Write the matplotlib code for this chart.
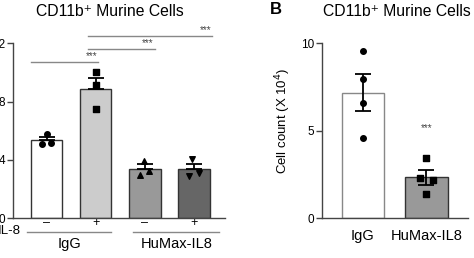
import matplotlib.pyplot as plt
import numpy as np

# panel A data
a_groups = ["IgG", "HuMax-IL8"]
a_il8 = ["\u2013", "+", "\u2013", "+"]
a_points = [
    [5.8, 5.1, 5.15],
    [10.0, 9.15, 7.5],
    [3.95, 2.95, 3.25],
    [4.07, 2.92, 3.08],
]
a_jitter = [
    [0.0, -0.1, 0.09],
    [0.0, 0.0, 0.0],
    [-0.02, -0.1, 0.08],
    [-0.03, -0.09, 0.1],
]
a_colors = ["white", "#cccccc", "#999999", "#666666"]
a_markers = ["o", "s", "^", "v"]
# significance brackets: (x_start, x_end, y)
a_sig = [(-0.32, 1.05, 10.75), (0.85, 2.21, 11.6), (0.85, 3.38, 12.5)]

# panel B data
b_labels = ["IgG", "HuMax-IL8"]
b_points = [
    [9.56, 7.96, 6.57, 4.57],
    [3.46, 2.32, 2.19, 1.39],
]
b_jitter = [
    [0.0, 0.0, 0.0, 0.0],
    [0.0, -0.1, 0.1, 0.0],
]
b_colors = ["white", "#999999"]
b_edges = ["#888888", "#333333"]
b_markers = ["o", "s"]

plt.rcParams["font.family"] = ["Liberation Sans", "DejaVu Sans"]

fig = plt.figure(figsize=(4.74, 2.58), dpi=100)
axA = fig.add_axes([0.0274, 0.155, 0.4473, 0.677])
axB = fig.add_axes([0.6787, 0.154, 0.308, 0.678])


def sem(v):
    return np.std(v, ddof=1) / np.sqrt(len(v))


def style(ax):
    for s in ["top", "right"]:
        ax.spines[s].set_visible(False)
    for s in ["left", "bottom"]:
        ax.spines[s].set_color("#444444")
        ax.spines[s].set_linewidth(1.0)
    ax.tick_params(axis="y", length=4, width=1, color="#444444", pad=1.5, labelsize=8.5)


# ---- panel A
style(axA)
xa = np.arange(4)
means = [np.mean(p) for p in a_points]
axA.bar(xa, means, width=0.65, color=a_colors, edgecolor="#333333", linewidth=1.0, zorder=2)
for i, p in enumerate(a_points):
    axA.errorbar(xa[i], means[i], yerr=[[0], [sem(p)]], fmt="none", ecolor="black",
                 elinewidth=1.3, capsize=6, capthick=1.3, zorder=3)
    axA.scatter(xa[i] + np.array(a_jitter[i]), p, marker=a_markers[i], s=16,
                color="black", zorder=4)
axA.set_xlim(-0.684, 3.64)
axA.set_ylim(0, 12)
axA.set_yticks([0, 4, 8, 12])
axA.set_xticks([])
for x0, x1, y in a_sig:
    axA.plot([x0, x1], [y, y], color="#888888", lw=1.0, clip_on=False)
    axA.text(x1 - 0.02, y + 0.05, "***", ha="right", va="bottom", fontsize=7, color="#444444")
tr = axA.get_xaxis_transform()
for i, s in enumerate(a_il8):
    axA.text(xa[i], -0.03, s, ha="center", va="center", fontsize=9, transform=tr)
axA.text(-0.525, -0.075, "IL-8", ha="right", va="center", fontsize=9.5, transform=tr)
for g, (x0, x1) in enumerate([(-0.4, 1.32), (1.77, 3.52)]):
    axA.plot([x0, x1], [-0.08, -0.08], color="#888888", lw=1.0, transform=tr, clip_on=False)
    axA.text((x0 + x1) / 2, -0.15, a_groups[g], ha="center", va="center", fontsize=10.5, transform=tr)
fig.text(0.231, 0.955, "CD11b\u207a Murine Cells", ha="center", va="center", fontsize=11.3)

# ---- panel B
style(axB)
xb = np.arange(2)
bmeans = [np.mean(p) for p in b_points]
axB.bar(xb, bmeans, width=0.66, color=b_colors, edgecolor=b_edges, linewidth=1.0, zorder=2)
for i, p in enumerate(b_points):
    axB.errorbar(xb[i], bmeans[i], yerr=sem(p), fmt="none", ecolor="black",
                 elinewidth=1.3, capsize=6, capthick=1.3, zorder=3)
    axB.scatter(xb[i] + np.array(b_jitter[i]), p,
                marker=b_markers[i], s=16, color="black", zorder=4)
axB.set_xlim(-0.645, 1.647)
axB.set_ylim(0, 10)
axB.set_yticks([0, 5, 10])
axB.set_xticks(xb)
axB.set_xticklabels(b_labels, fontsize=10.5)
axB.tick_params(axis="x", length=0, pad=8)
axB.set_ylabel("Cell count (X 10$^4$)", fontsize=9.5)
axB.yaxis.set_label_coords(-0.2, 0.556)
axB.text(xb[1], 5.15, "***", ha="center", va="center", fontsize=7, color="#444444")
fig.text(0.837, 0.955, "CD11b\u207a Murine Cells", ha="center", va="center", fontsize=11.3)
fig.text(0.582, 0.965, "B", ha="center", va="center", fontsize=12, fontweight="bold")

fig.savefig("out.png", dpi=100)
